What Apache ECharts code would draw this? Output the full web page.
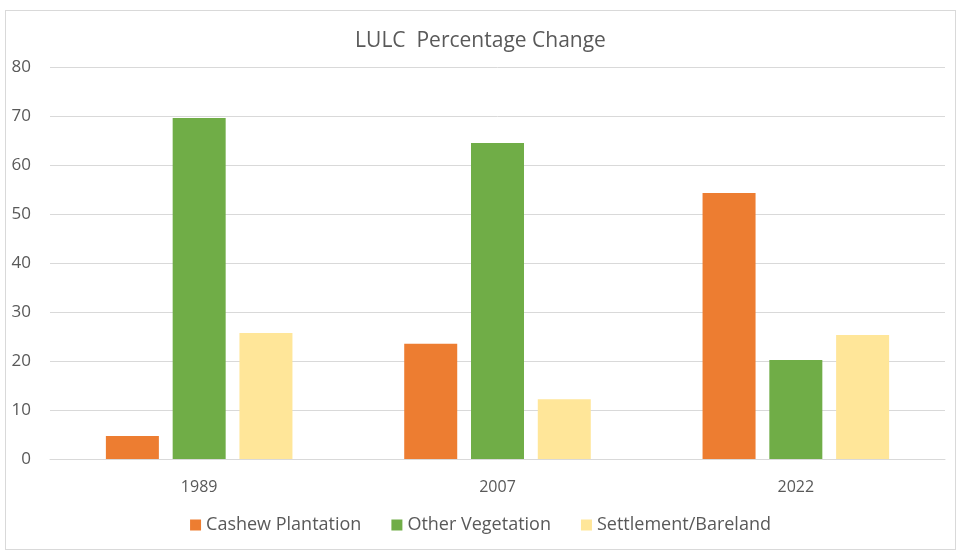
<!DOCTYPE html>
<html>
<head>
<meta charset="utf-8">
<script src="https://cdn.jsdelivr.net/npm/echarts@6/dist/echarts.min.js"></script>
<style>
  html, body { margin: 0; padding: 0; background: #fff; }
  #chart { position: absolute; left: 5px; top: 10px; width: 951px; height: 540px; border: 1px solid #d9d9d9; box-sizing: border-box; }
</style>
</head>
<body>
<div id="chart"></div>
<script>
  // Data
  var years = ['1989', '2007', '2022'];
  var cashew = [4.7, 23.5, 54.3];
  var otherVeg = [69.6, 64.5, 20.2];
  var settlement = [25.7, 12.2, 25.3];

  var font = '"Open Sans", "Noto Sans", sans-serif';
  var chart = echarts.init(document.getElementById('chart'));
  var option = {
    animation: false,
    title: {
      text: 'LULC  Percentage Change',
      left: 'center',
      top: 15,
      textStyle: { fontFamily: font, fontSize: 21, fontWeight: 'normal', color: '#595959' }
    },
    legend: {
      bottom: 10,
      left: 'center',
      itemWidth: 11,
      itemHeight: 11,
      itemGap: 30,
      icon: 'rect',
      textStyle: { fontFamily: font, fontSize: 18, color: '#595959' },
      data: ['Cashew Plantation', 'Other Vegetation', 'Settlement/Bareland']
    },
    grid: { left: 44, right: 10, top: 56, bottom: 90 },
    xAxis: {
      type: 'category',
      data: years,
      axisLine: { lineStyle: { color: '#d9d9d9' } },
      axisTick: { show: false },
      axisLabel: { fontFamily: font, fontSize: 16, color: '#595959', margin: 20 }
    },
    yAxis: {
      type: 'value',
      min: 0,
      max: 80,
      interval: 10,
      axisLine: { show: false },
      axisTick: { show: false },
      splitLine: { lineStyle: { color: '#d9d9d9' } },
      axisLabel: { fontFamily: font, fontSize: 17, color: '#595959', margin: 19 }
    },
    series: [
      { name: 'Cashew Plantation', type: 'bar', data: cashew, barWidth: 53, barGap: '26%', itemStyle: { color: '#ed7d31' } },
      { name: 'Other Vegetation', type: 'bar', data: otherVeg, barWidth: 53, barGap: '26%', itemStyle: { color: '#70ad47' } },
      { name: 'Settlement/Bareland', type: 'bar', data: settlement, barWidth: 53, barGap: '26%', itemStyle: { color: '#ffe699' } }
    ]
  };
  chart.setOption(option);
</script>
</body>
</html>
